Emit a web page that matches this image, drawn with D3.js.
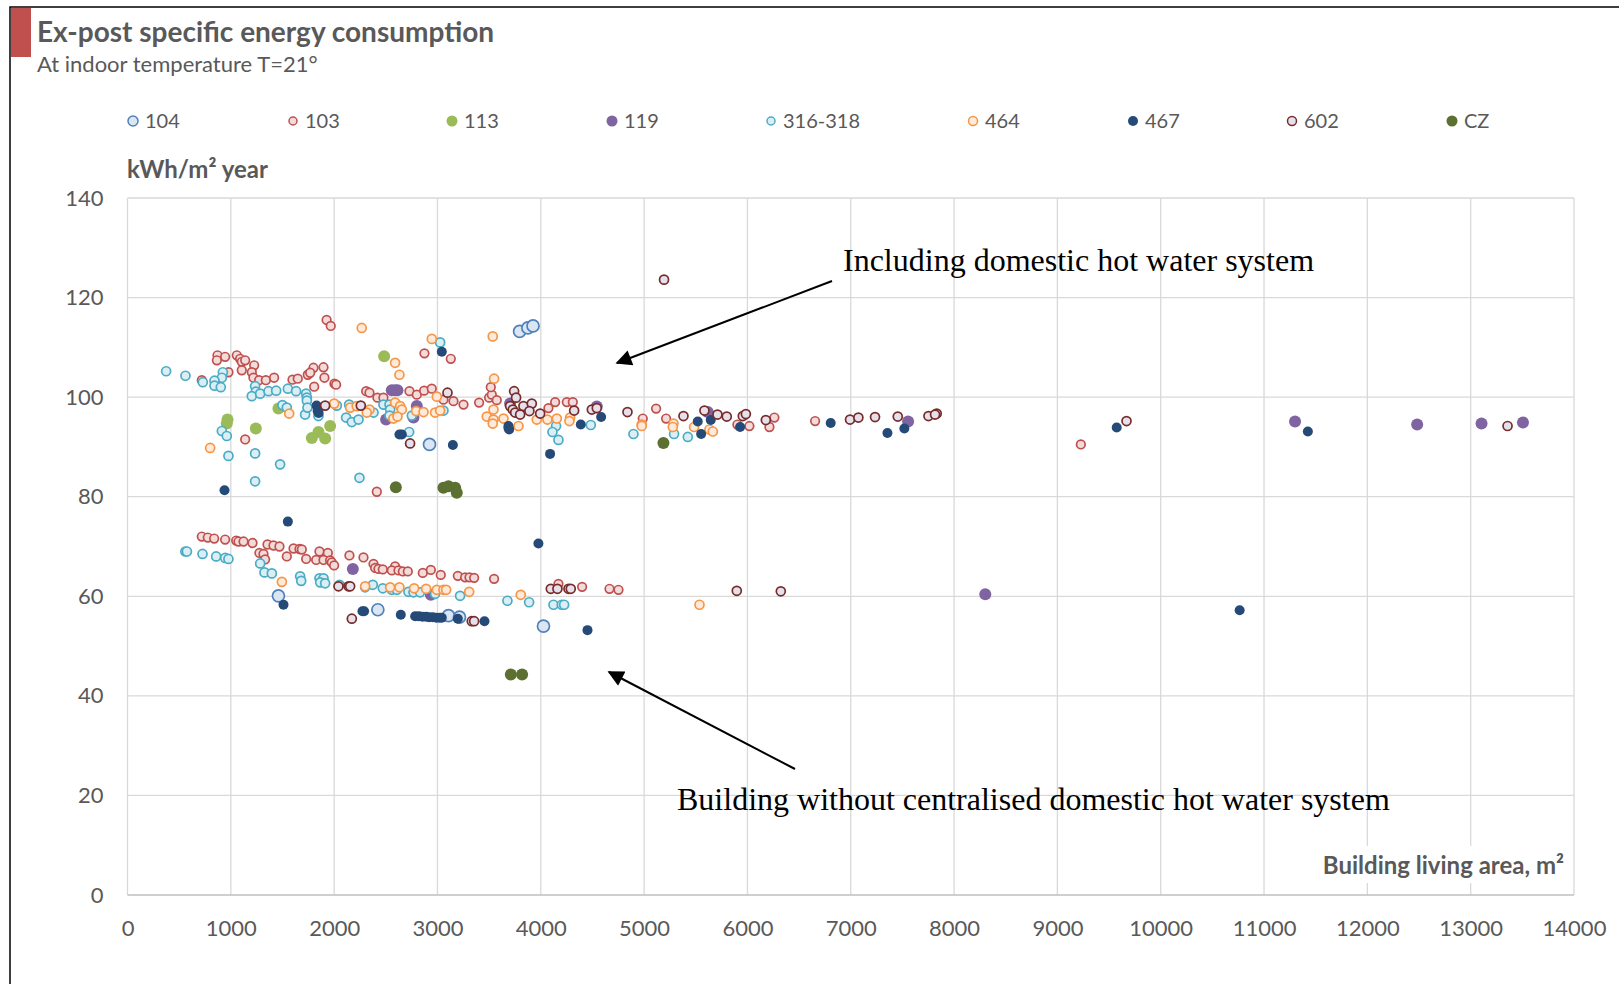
<!DOCTYPE html>
<html>
<head>
<meta charset="utf-8">
<script src="https://cdn.jsdelivr.net/npm/d3@7"></script>
<style>
  body { margin: 0; background: #fff; }
  svg { display: block; font-family: Lato, "Open Sans", sans-serif; }
</style>
</head>
<body>
<svg id="chart" width="1619" height="984"></svg>
<script>
// series data, [living area m², kWh/m² year]
const s104 = [[3795,113.2],[3875,113.9],[3925,114.3],[2923,90.5],[1461,60.1],[2423,57.3],[3107,56.1],[3213,55.8],[4026,54.0]];
const s103 = [[719,103.4],[871,108.4],[865,107.4],[945,108.1],[977,105.0],[1058,108.4],[1090,107.7],[1106,107.1],[1139,107.4],[1106,105.4],[1226,106.4],[1203,105.0],[1219,103.9],[1274,103.4],[1339,103.4],[1419,103.9],[1597,103.5],[1648,103.7],[1745,104.5],[1800,105.9],[1768,104.9],[1897,106.0],[1906,103.9],[1807,102.1],[2003,102.7],[2019,102.5],[2310,101.2],[2342,100.9],[2419,99.9],[2477,99.9],[2729,101.2],[2800,100.5],[2871,101.3],[2945,101.7],[3058,99.5],[3155,99.2],[3252,98.5],[2874,108.8],[3129,107.7],[3403,98.9],[3500,99.9],[3526,100.5],[3574,99.4],[3516,102.0],[4074,97.8],[4139,99.0],[4252,99.0],[4310,99.0],[4987,95.7],[5116,97.7],[5213,95.7],[5903,94.5],[6019,94.2],[6261,95.9],[6213,94.0],[6655,95.2],[9227,90.5],[1927,115.5],[1967,114.3],[1139,91.5],[2413,81.0],
  [719,72.0],[777,71.8],[839,71.6],[945,71.4],[1052,71.2],[1074,71.0],[1123,71.0],[1210,70.7],[1355,70.4],[1413,70.2],[1471,70.0],[1607,69.6],[1665,69.5],[1687,69.4],[1858,69.0],[1939,68.7],[1277,68.7],[1316,68.5],[1332,67.4],[1542,68.0],[1729,67.5],[1826,67.3],[1897,67.3],[1961,67.2],[1977,66.8],[2000,66.2],[2148,68.2],[2284,67.8],[2381,66.5],[2397,65.7],[2429,65.5],[2471,65.4],[2590,66.0],[2558,65.2],[2623,65.2],[2665,65.0],[2713,65.0],[2858,64.7],[2936,65.3],[3032,64.3],[3197,64.1],[3268,63.8],[3310,63.8],[3355,63.7],[3548,63.5],[4171,62.5],[4400,61.9],[4665,61.5],[4752,61.3]];
const s113 = [[2484,108.2],[1461,97.7],[968,95.5],[961,94.7],[1242,93.7],[1784,91.8],[1848,93.0],[1913,91.7],[1961,94.2]];
const s119 = [[2558,101.4],[2590,101.4],[2613,101.4],[2503,95.5],[2800,98.2],[2768,95.9],[3703,98.7],[4542,98.1],[5616,97.0],[7555,95.1],[8302,60.4],[11300,95.1],[12482,94.5],[13105,94.7],[13506,94.9],[2181,65.5],[2936,60.3]];
const s316 = [[374,105.2],[561,104.3],[729,103.0],[923,105.0],[913,103.9],[842,103.3],[842,102.3],[903,102.0],[1235,102.2],[1242,101.1],[1203,100.2],[1284,100.7],[1365,101.2],[1439,101.3],[1552,101.7],[1632,101.2],[1729,100.7],[1736,99.9],[1736,99.3],[1500,98.4],[1542,97.9],[1719,96.5],[1742,97.9],[1848,96.2],[2026,98.3],[2145,98.5],[2116,95.9],[2171,95.0],[2236,95.5],[2381,96.9],[2477,98.5],[2536,98.5],[2542,97.5],[2536,96.3],[2752,96.3],[3058,97.3],[2726,93.0],[3026,111.0],[2245,83.8],[1235,88.7],[1477,86.5],[1235,83.1],[977,88.2],[913,93.2],[961,92.2],[4148,94.2],[4113,93.0],[4171,91.4],[4484,94.4],[4897,92.6],[5290,92.6],[5423,92.0],
  [560,69.0],[575,69.0],[726,68.5],[858,68.0],[945,67.7],[977,67.5],[1284,66.6],[1326,64.8],[1397,64.6],[1671,64.0],[1681,63.1],[1858,63.6],[1897,63.6],[1865,62.8],[1913,62.6],[2052,62.3],[2300,61.8],[2374,62.3],[2471,61.6],[2558,61.3],[2607,61.3],[2719,60.9],[2768,60.8],[2832,60.8],[2977,60.5],[3219,60.1],[3677,59.1],[3887,58.8],[4123,58.3],[4203,58.3],[4226,58.3]];
const s464 = [[2000,98.7],[1565,96.7],[2155,97.9],[2219,98.2],[2342,97.5],[2316,96.9],[2590,98.9],[2639,98.2],[2655,97.5],[2574,95.7],[2613,96.1],[2590,106.9],[2632,104.5],[2794,97.2],[2865,97.0],[2977,96.9],[3026,97.3],[2994,100.1],[2945,111.7],[3535,112.2],[2267,113.9],[3548,103.7],[3477,96.1],[3542,95.5],[3535,94.7],[3639,95.7],[3542,97.5],[3784,94.2],[3961,95.5],[4064,95.5],[4155,95.7],[4284,95.9],[4277,95.2],[4977,94.5],[4977,94.2],[5284,94.7],[5278,94.0],[5484,94.0],[5632,93.5],[5665,93.1],[800,89.8],
  [1494,62.9],[2300,62.0],[2542,61.8],[2632,61.8],[2774,61.6],[2890,61.5],[2994,61.3],[3058,61.3],[3084,61.3],[3307,60.9],[3806,60.3],[5536,58.3]];
const s467 = [[1830,98.3],[1840,97.2],[1850,96.8],[3042,109.1],[2655,92.5],[2632,92.5],[3149,90.4],[3687,94.2],[3694,93.5],[3687,93.8],[939,81.3],[4090,88.6],[4387,94.5],[4584,96.0],[5519,95.1],[5645,95.4],[5552,92.6],[5929,94.0],[6806,94.8],[7355,92.8],[7519,93.7],[9574,93.9],[11424,93.1],
  [1552,75.0],[3977,70.6],[1510,58.3],[2290,57.0],[2274,57.0],[2645,56.3],[2784,56.0],[2820,56.0],[2855,55.9],[2890,55.9],[2920,55.8],[2955,55.8],[2990,55.7],[3020,55.7],[3042,55.7],[3197,55.5],[3455,55.0],[4452,53.2],[10764,57.2]];
const s602 = [[1913,98.3],[2258,98.3],[3097,100.9],[2735,90.7],[3742,101.2],[3761,99.9],[3703,98.2],[3729,97.5],[3752,96.9],[3832,98.2],[3913,98.7],[3890,97.2],[3994,96.7],[3800,96.5],[4323,97.3],[4494,97.5],[4542,97.8],[4839,97.0],[5381,96.2],[5584,97.3],[5710,96.5],[5800,96.1],[5955,96.2],[5985,96.6],[6178,95.4],[6993,95.5],[7074,95.9],[7235,96.0],[7455,96.1],[7752,96.2],[7832,96.7],[7816,96.5],[9669,95.2],[13357,94.2],[5193,123.6],
  [2042,62.0],[2139,62.0],[2155,62.0],[2171,55.5],[3332,55.0],[3355,55.0],[4097,61.5],[4161,61.5],[4268,61.5],[4290,61.5],[5897,61.1],[6323,61.0]];
const sCZ = [[2597,81.9],[3058,81.8],[3106,82.1],[3171,81.8],[3187,80.8],[5187,90.8],[3710,44.3],[3819,44.3]];

const seriesNames = ['104', '103', '113', '119', '316-318', '464', '467', '602', 'CZ'];
const seriesData = [s104, s103, s113, s119, s316, s464, s467, s602, sCZ];
const xTicks = [0,1000,2000,3000,4000,5000,6000,7000,8000,9000,10000,11000,12000,13000,14000];
const yTicks = [0,20,40,60,80,100,120,140];

// marker look per series
const styles = {
  '104':     { r: 6,   fill: '#dce6f2', stroke: '#4f81bd', lr: 5 },
  '103':     { r: 4.3, fill: '#f2dcdb', stroke: '#c0504d', lr: 4 },
  '113':     { r: 6,   fill: '#9bbb59', stroke: 'none',    lr: 5.5 },
  '119':     { r: 6,   fill: '#8064a2', stroke: 'none',    lr: 5.5 },
  '316-318': { r: 4.5, fill: '#dbeef4', stroke: '#4bacc6', lr: 4 },
  '464':     { r: 4.5, fill: '#fdeada', stroke: '#f79646', lr: 4.5 },
  '467':     { r: 5,   fill: '#254a77', stroke: 'none',    lr: 5 },
  '602':     { r: 4.5, fill: '#e6e0ec', stroke: '#772c2a', lr: 4.5 },
  'CZ':      { r: 6,   fill: '#5b7031', stroke: 'none',    lr: 5.5 }
};

const svg = d3.select('#chart');
const textColor = '#595959';

// frame + red tab
svg.append('path')
  .attr('d', 'M10,984 L10,7 L1619,7')
  .attr('fill', 'none').attr('stroke', '#000').attr('stroke-width', 1.5);
svg.append('rect').attr('x', 11).attr('y', 8).attr('width', 20).attr('height', 49).attr('fill', '#c0504d');

svg.append('text').attr('x', 37).attr('y', 42)
  .attr('font-size', 28).attr('font-weight', 'bold').attr('fill', textColor)
  .text('Ex-post specific energy consumption');
svg.append('text').attr('x', 37).attr('y', 72)
  .attr('font-size', 22).attr('fill', textColor)
  .text('At indoor temperature T=21°');

// legend
const legendX = [133, 293, 452, 612, 771, 973, 1133, 1292, 1452];
const legend = svg.append('g');
seriesNames.forEach((name, i) => {
  const st = styles[name];
  legend.append('circle')
    .attr('cx', legendX[i]).attr('cy', 121).attr('r', st.lr)
    .attr('fill', st.fill).attr('stroke', st.stroke).attr('stroke-width', 1.5);
  legend.append('text')
    .attr('x', legendX[i] + 12).attr('y', 128)
    .attr('font-size', 20).attr('fill', textColor)
    .text(name);
});

svg.append('text').attr('x', 127).attr('y', 178)
  .attr('font-size', 24).attr('font-weight', 'bold').attr('fill', textColor)
  .text('kWh/m² year');

// scales
const x = d3.scaleLinear().domain([0, 14000]).range([127.5, 1574]);
const y = d3.scaleLinear().domain([0, 140]).range([895, 198]);

// gridlines
const grid = svg.append('g');
grid.selectAll('.vg').data(xTicks).enter().append('line')
  .attr('x1', d => x(d)).attr('x2', d => x(d))
  .attr('y1', y(140)).attr('y2', y(0))
  .attr('stroke', '#d9d9d9').attr('stroke-width', 1.3);
grid.selectAll('.hg').data(yTicks).enter().append('line')
  .attr('x1', x(0)).attr('x2', x(14000))
  .attr('y1', d => y(d)).attr('y2', d => y(d))
  .attr('stroke', d => d === 0 ? '#bfbfbf' : '#d9d9d9').attr('stroke-width', 1.3);

// axes (labels only)
const xAxis = svg.append('g').attr('transform', `translate(0,${y(0)})`)
  .call(d3.axisBottom(x).tickValues(xTicks).tickFormat(d3.format('d')).tickSize(0).tickPadding(25));
const yAxis = svg.append('g').attr('transform', `translate(${x(0)},0)`)
  .call(d3.axisLeft(y).tickValues(yTicks).tickSize(0).tickPadding(24));
[xAxis, yAxis].forEach(a => {
  a.select('.domain').remove();
  a.selectAll('text').attr('font-size', 22).attr('fill', textColor)
    .attr('font-family', 'Lato, "Open Sans", sans-serif');
});

// x axis title with white box behind it
const xtBox = svg.append('rect').attr('fill', '#fff');
const xt = svg.append('text').attr('x', 1564).attr('y', 874)
  .attr('text-anchor', 'end').attr('font-size', 24).attr('font-weight', 'bold').attr('fill', textColor)
  .text('Building living area, m²');
const bb = xt.node().getBBox();
xtBox.attr('x', bb.x - 8).attr('y', bb.y - 4).attr('width', bb.width + 12).attr('height', bb.height + 8);

// points
const marks = svg.append('g');
seriesNames.forEach((name, i) => {
  const st = styles[name];
  marks.append('g').selectAll('circle')
    .data(seriesData[i]).enter().append('circle')
    .attr('cx', d => x(d[0])).attr('cy', d => y(d[1])).attr('r', st.r)
    .attr('fill', st.fill).attr('stroke', st.stroke).attr('stroke-width', 1.7);
});

// annotations
svg.append('defs').append('marker').attr('id', 'arr')
  .attr('viewBox', '0 0 10 10').attr('refX', 9).attr('refY', 5)
  .attr('markerWidth', 22).attr('markerHeight', 16).attr('markerUnits', 'userSpaceOnUse')
  .attr('orient', 'auto')
  .append('path').attr('d', 'M0,0 L10,5 L0,10 Z').attr('fill', '#000');

svg.append('line').attr('x1', 832).attr('y1', 281).attr('x2', 617).attr('y2', 363)
  .attr('stroke', '#000').attr('stroke-width', 2).attr('marker-end', 'url(#arr)');
svg.append('line').attr('x1', 795).attr('y1', 769).attr('x2', 609).attr('y2', 672)
  .attr('stroke', '#000').attr('stroke-width', 2).attr('marker-end', 'url(#arr)');

svg.append('text').attr('x', 843).attr('y', 271)
  .attr('font-family', '"Liberation Serif", "Times New Roman", serif').attr('font-size', 32).attr('fill', '#000')
  .text('Including domestic hot water system');
svg.append('text').attr('x', 677).attr('y', 810)
  .attr('font-family', '"Liberation Serif", "Times New Roman", serif').attr('font-size', 32).attr('fill', '#000')
  .text('Building without centralised domestic hot water system');
</script>
</body>
</html>
